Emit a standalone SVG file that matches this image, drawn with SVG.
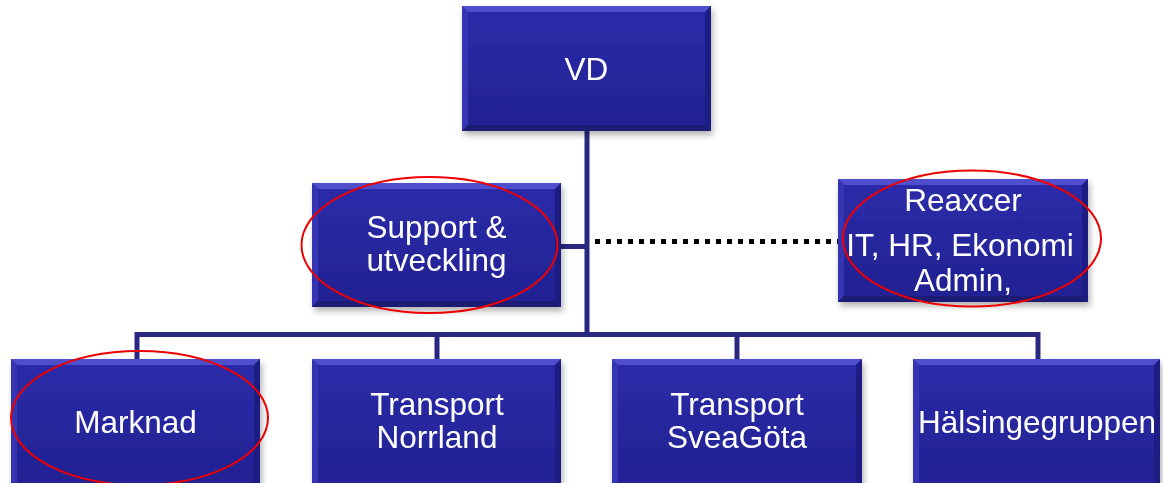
<svg xmlns="http://www.w3.org/2000/svg" width="1163" height="483" viewBox="0 0 1163 483">
<style>
.box{fill:url(#bg)}
.bt{fill:#5a5ad6;opacity:0.8}
.bl{fill:#3636b4}
.br{fill:#1e1e82}
.bb{fill:#1a1a74}
.txt{font-family:"Liberation Sans",Arial,sans-serif;font-size:31.5px;fill:#ffffff;text-anchor:middle}
.ln{stroke:#282880;stroke-width:5;fill:none}
.dot{stroke:#000000;stroke-width:5;stroke-dasharray:5 6;fill:none}
.ring{fill:none;stroke:#ee0000;stroke-width:2}
</style>
<defs>
<linearGradient id="bg" x1="0" y1="0" x2="0" y2="1">
<stop offset="0" stop-color="#2c2caa"/>
<stop offset="1" stop-color="#212192"/>
</linearGradient>
<filter id="sh" x="-10%" y="-10%" width="125%" height="130%">
<feDropShadow dx="2" dy="4" stdDeviation="3" flood-color="#000" flood-opacity="0.3"/>
</filter>
</defs>
<g id="connectors">
<line class="ln" x1="587" y1="131" x2="587" y2="337"/>
<line class="ln" x1="561" y1="246.5" x2="587" y2="246.5"/>
<polyline class="ln" points="137,360 137,334.5 1038,334.5 1038,360"/>
<line class="ln" x1="437" y1="334.5" x2="437" y2="360"/>
<line class="ln" x1="737" y1="334.5" x2="737" y2="360"/>
<line class="dot" x1="595" y1="241.5" x2="838" y2="241.5"/>
</g>
<g id="vd" filter="url(#sh)">
<rect class="box" x="462" y="6" width="249" height="125"/>
<polygon class="bt" points="462,6 711,6 705,12 468,12"/>
<polygon class="bl" points="462,6 468,12 468,125 462,131"/>
<polygon class="br" points="711,6 711,131 705,125 705,12"/>
<polygon class="bb" points="462,131 711,131 705,125 468,125"/>
<text class="txt" x="586.5" y="80">VD</text>
</g>
<g id="support" filter="url(#sh)">
<rect class="box" x="312" y="183" width="249" height="124"/>
<polygon class="bt" points="312,183 561,183 555,189 318,189"/>
<polygon class="bl" points="312,183 318,189 318,301 312,307"/>
<polygon class="br" points="561,183 561,307 555,301 555,189"/>
<polygon class="bb" points="312,307 561,307 555,301 318,301"/>
<text class="txt" x="436.5" y="238">Support &amp;</text>
<text class="txt" x="436.5" y="271">utveckling</text>
</g>
<g id="reaxcer" filter="url(#sh)">
<rect class="box" x="838" y="179" width="250" height="123"/>
<polygon class="bt" points="838,179 1088,179 1082,185 844,185"/>
<polygon class="bl" points="838,179 844,185 844,296 838,302"/>
<polygon class="br" points="1088,179 1088,302 1082,296 1082,185"/>
<polygon class="bb" points="838,302 1088,302 1082,296 844,296"/>
<text class="txt" x="963" y="211">Reaxcer</text>
<text class="txt" x="960" y="256">IT, HR, Ekonomi</text>
<text class="txt" x="963" y="291">Admin,</text>
</g>
<g id="marknad" filter="url(#sh)">
<rect class="box" x="11" y="359" width="249" height="130"/>
<polygon class="bt" points="11,359 260,359 254,365 17,365"/>
<polygon class="bl" points="11,359 17,365 17,489 11,489"/>
<polygon class="br" points="260,359 260,489 254,489 254,365"/>
<text class="txt" x="135.5" y="433">Marknad</text>
</g>
<g id="norrland" filter="url(#sh)">
<rect class="box" x="312" y="359" width="249" height="130"/>
<polygon class="bt" points="312,359 561,359 555,365 318,365"/>
<polygon class="bl" points="312,359 318,365 318,489 312,489"/>
<polygon class="br" points="561,359 561,489 555,489 555,365"/>
<text class="txt" x="437" y="415">Transport</text>
<text class="txt" x="437" y="448">Norrland</text>
</g>
<g id="sveagota" filter="url(#sh)">
<rect class="box" x="612" y="359" width="250" height="130"/>
<polygon class="bt" points="612,359 862,359 856,365 618,365"/>
<polygon class="bl" points="612,359 618,365 618,489 612,489"/>
<polygon class="br" points="862,359 862,489 856,489 856,365"/>
<text class="txt" x="737" y="415">Transport</text>
<text class="txt" x="737" y="448">SveaGöta</text>
</g>
<g id="halsingegruppen" filter="url(#sh)">
<rect class="box" x="913" y="359" width="247" height="130"/>
<polygon class="bt" points="913,359 1160,359 1154,365 919,365"/>
<polygon class="bl" points="913,359 919,365 919,489 913,489"/>
<polygon class="br" points="1160,359 1160,489 1154,489 1154,365"/>
<text class="txt" x="1037" y="433">Hälsingegruppen</text>
</g>
<g id="highlights">
<ellipse class="ring" cx="429.5" cy="245" rx="128" ry="68"/>
<ellipse class="ring" cx="972" cy="238.5" rx="129" ry="68"/>
<ellipse class="ring" cx="139.5" cy="418" rx="128.5" ry="67"/>
</g>
</svg>
